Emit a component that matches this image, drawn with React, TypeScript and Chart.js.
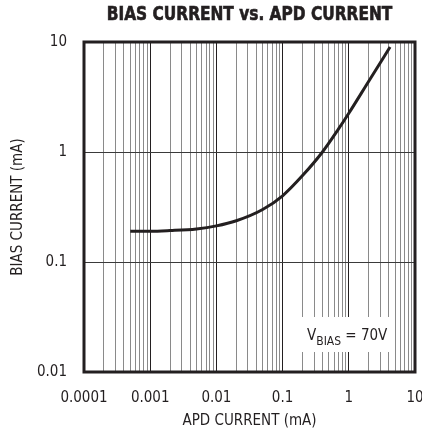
import React, { useEffect, useRef } from 'react';
import { Chart, registerables } from 'chart.js';
Chart.register(...registerables);

// ---- data ----
const apdCurrent = [0.0005, 0.001, 0.002, 0.005, 0.01, 0.02, 0.05, 0.1, 0.2, 0.4, 0.7, 1, 2, 4.2];
const biasCurrent = [0.19, 0.19, 0.193, 0.2, 0.213, 0.237, 0.3, 0.4, 0.61, 1.0, 1.62, 2.25, 4.4, 9.0];
const xTickLabels = ['0.0001', '0.001', '0.01', '0.1', '1', '10'];
const yTickLabels = ['0.01', '0.1', '1', '10'];
const chartTitle = 'BIAS CURRENT vs. APD CURRENT';
const xTitle = 'APD CURRENT (mA)';
const yTitle = 'BIAS CURRENT (mA)';
const noteMain = 'V';
const noteSub = 'BIAS';
const noteRest = ' = 70V';

const FONT = "'Liberation Sans Narrow', 'DejaVu Sans Condensed', 'Liberation Sans', sans-serif";
const INK = '#231f20';

const isDecade = (v: number) => {
  const l = Math.log10(v);
  return Math.abs(l - Math.round(l)) < 1e-6;
};
const labelFor = (labels: string[], v: number) => {
  const f = labels.find((s) => Math.abs(Math.log10(Number(s)) - Math.log10(v)) < 1e-6);
  return f ?? '';
};

const xDecades = xTickLabels.map(Number);
const yDecades = yTickLabels.map(Number);
const xGridValues: number[] = [];
xDecades.forEach((d, i) => {
  xGridValues.push(d);
  if (i < xDecades.length - 1) for (let k = 2; k <= 9; k++) xGridValues.push(d * k);
});

export default function App() {
  const ref = useRef<HTMLCanvasElement | null>(null);
  useEffect(() => {
    if (!ref.current) return;
    const decor = {
      id: 'decor',
      afterDraw(chart: any) {
        const { ctx, chartArea } = chart;
        const { left, top, right, bottom } = chartArea;
        ctx.save();
        // title (slightly condensed, heavy)
        ctx.fillStyle = INK;
        ctx.strokeStyle = INK;
        ctx.lineWidth = 0.6;
        ctx.font = `bold 19px ${FONT}`;
        ctx.textAlign = 'center';
        ctx.textBaseline = 'middle';
        ctx.save();
        ctx.translate((left + right) / 2, 15);
        ctx.scale(0.9, 1.05);
        ctx.fillText(chartTitle, 0, 0);
        ctx.strokeText(chartTitle, 0, 0);
        ctx.restore();
        // note box
        ctx.fillStyle = '#ffffff';
        ctx.fillRect(right - 115, bottom - 55, 95, 35);
        ctx.fillStyle = INK;
        ctx.textAlign = 'left';
        ctx.textBaseline = 'alphabetic';
        let x = right - 108;
        const base = bottom - 32;
        ctx.font = `15px ${FONT}`;
        ctx.fillText(noteMain, x, base);
        x += ctx.measureText(noteMain).width;
        ctx.font = `12px ${FONT}`;
        ctx.fillText(noteSub, x, base + 5);
        x += ctx.measureText(noteSub).width;
        ctx.font = `15px ${FONT}`;
        ctx.fillText(noteRest, x, base);
        // frame
        ctx.strokeStyle = INK;
        ctx.lineWidth = 3;
        ctx.strokeRect(left, top, right - left, bottom - top);
        ctx.restore();
      },
    };
    const chart = new Chart(ref.current, {
      type: 'scatter',
      data: {
        datasets: [
          {
            data: apdCurrent.map((x, i) => ({ x, y: biasCurrent[i] })),
            showLine: true,
            borderColor: INK,
            borderWidth: 3,
            pointRadius: 0,
            cubicInterpolationMode: 'monotone',
          } as any,
        ],
      },
      options: {
        animation: false,
        responsive: false,
        layout: { padding: { top: 42, right: 7, left: 0, bottom: 0 } },
        plugins: { legend: { display: false }, tooltip: { enabled: false }, title: { display: false } },
        scales: {
          x: {
            type: 'logarithmic',
            min: xDecades[0],
            max: xDecades[xDecades.length - 1],
            afterBuildTicks: (s: any) => {
              s.ticks = xGridValues.map((v) => ({ value: v, major: isDecade(v) }));
            },
            afterFit: (s: any) => {
              s.height = 66;
              s.paddingLeft = 0;
              s.paddingRight = 0;
            },
            ticks: {
              autoSkip: false,
              maxRotation: 0,
              padding: 17,
              color: INK,
              font: { family: FONT, size: 15 },
              callback: (v: any) => (isDecade(Number(v)) ? labelFor(xTickLabels, Number(v)) : ''),
            },
            grid: {
              drawTicks: false,
              color: (c: any) => (c.tick && isDecade(c.tick.value) ? INK : '#8a8a8a'),
              lineWidth: 1,
            },
            border: { display: false },
            title: {
              display: true,
              text: xTitle,
              color: INK,
              font: { family: FONT, size: 15 },
              padding: { top: 0, bottom: 8 },
            },
          },
          y: {
            type: 'logarithmic',
            min: yDecades[0],
            max: yDecades[yDecades.length - 1],
            afterBuildTicks: (s: any) => {
              s.ticks = yDecades.map((v) => ({ value: v, major: true }));
            },
            afterFit: (s: any) => {
              s.width = 84;
              s.paddingTop = 0;
              s.paddingBottom = 0;
            },
            ticks: {
              autoSkip: false,
              padding: 17,
              color: INK,
              font: { family: FONT, size: 15 },
              callback: (v: any) => labelFor(yTickLabels, Number(v)),
            },
            grid: { drawTicks: false, color: '#3a3a3a', lineWidth: 1 },
            border: { display: false },
            title: {
              display: true,
              text: yTitle,
              color: INK,
              font: { family: FONT, size: 15 },
              padding: { top: 9, bottom: 0 },
            },
          },
        },
      },
      plugins: [decor],
    } as any);
    return () => chart.destroy();
  }, []);
  return (
    <div style={{ position: 'absolute', left: 0, top: 0, width: 422, height: 438, background: '#fff' }}>
      <canvas ref={ref} width={422} height={438} style={{ display: 'block', width: 422, height: 438 }} />
    </div>
  );
}
